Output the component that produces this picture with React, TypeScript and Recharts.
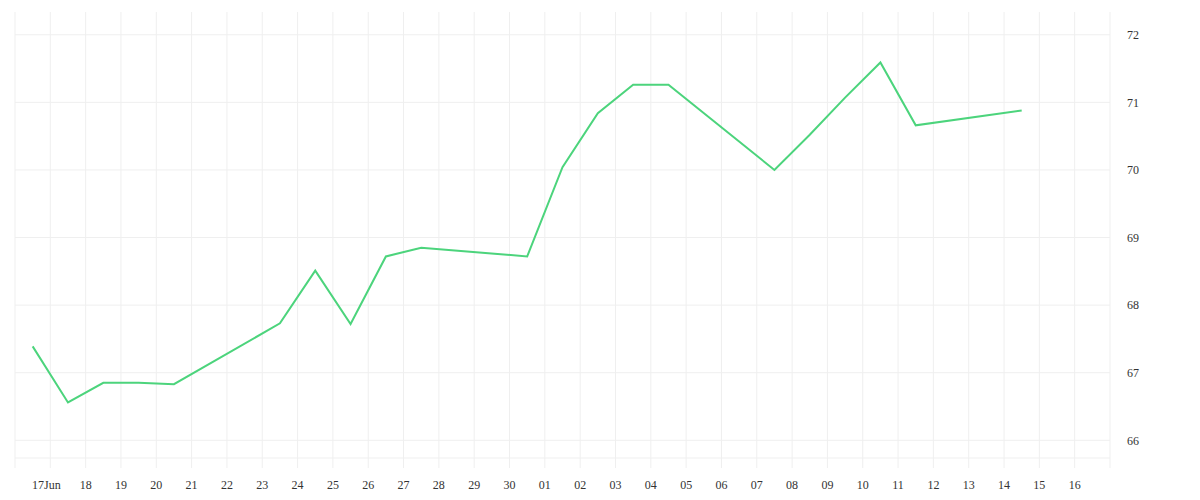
import React from 'react';
import { LineChart, Line, XAxis, YAxis, CartesianGrid, ReferenceLine } from 'recharts';

// Trading days (month-day)
const dates = [
  '06-16', '06-17', '06-18', '06-19', '06-20',
  '06-23', '06-24', '06-25', '06-26', '06-27',
  '06-30', '07-01', '07-02', '07-03', '07-04',
  '07-07', '07-08', '07-09', '07-10', '07-11',
  '07-14',
];
const values = [
  67.39, 66.56, 66.85, 66.85, 66.83,
  67.73, 68.51, 67.72, 68.72, 68.85,
  68.72, 70.04, 70.84, 71.26, 71.26,
  70.0, 70.52, 71.07, 71.59, 70.66,
  70.88,
];
const tickLabels = [
  '17Jun', '18', '19', '20', '21', '22', '23', '24', '25', '26', '27', '28', '29', '30',
  '01', '02', '03', '04', '05', '06', '07', '08', '09', '10', '11', '12', '13', '14', '15', '16',
];
const yTicks = [66, 67, 68, 69, 70, 71, 72];
const extraGridValues = [65.738];

const DAY = 86400000;
const BASE = Date.UTC(2024, 5, 17);
const toDayOffset = (d: string) => {
  const [m, dd] = d.split('-').map(Number);
  return (Date.UTC(2024, m - 1, dd) + DAY / 2 - BASE) / DAY;
};

const data = dates.map((d, i) => ({ t: toDayOffset(d), v: values[i] }));
const xTicks = [-1, ...tickLabels.map((_, i) => i), tickLabels.length];

const tickStyle = { fontSize: 12, fill: '#333', fontFamily: '"Liberation Serif", serif' };
const gridColor = '#efefef';

const XTick = (props: any) => {
  const { x, y, payload } = props;
  const v = payload.value as number;
  const label = v >= 0 && v < tickLabels.length ? tickLabels[v] : '';
  if (!label) return null;
  const shift = label.length > 2 ? -4 : 0;
  return (
    <text x={x + shift} y={y} dy="0.71em" textAnchor="middle" {...tickStyle}>
      {label}
    </text>
  );
};

export default function App() {
  return (
    <LineChart
      width={1184}
      height={484}
      data={data}
      margin={{ top: 4, right: 0, bottom: 0, left: 7 }}
    >
      <CartesianGrid stroke={gridColor} strokeWidth={1} horizontal={false} />
      <XAxis
        dataKey="t"
        type="number"
        domain={[-1, tickLabels.length]}
        ticks={xTicks}
        interval={0}
        allowDataOverflow
        axisLine={false}
        tickLine={false}
        tickMargin={6}
        height={24}
        tick={<XTick />}
      />
      <YAxis
        orientation="right"
        type="number"
        domain={[65.59, 72.337]}
        ticks={yTicks}
        interval={0}
        allowDataOverflow
        axisLine={false}
        tickLine={false}
        tickMargin={11}
        width={82}
        tick={tickStyle}
      />
      {[...yTicks, ...extraGridValues].map((v) => (
        <ReferenceLine key={v} y={v} stroke={gridColor} strokeWidth={1} />
      ))}
      <Line
        type="linear"
        dataKey="v"
        stroke="#4cd47c"
        strokeWidth={2}
        dot={false}
        activeDot={false}
        isAnimationActive={false}
      />
    </LineChart>
  );
}
